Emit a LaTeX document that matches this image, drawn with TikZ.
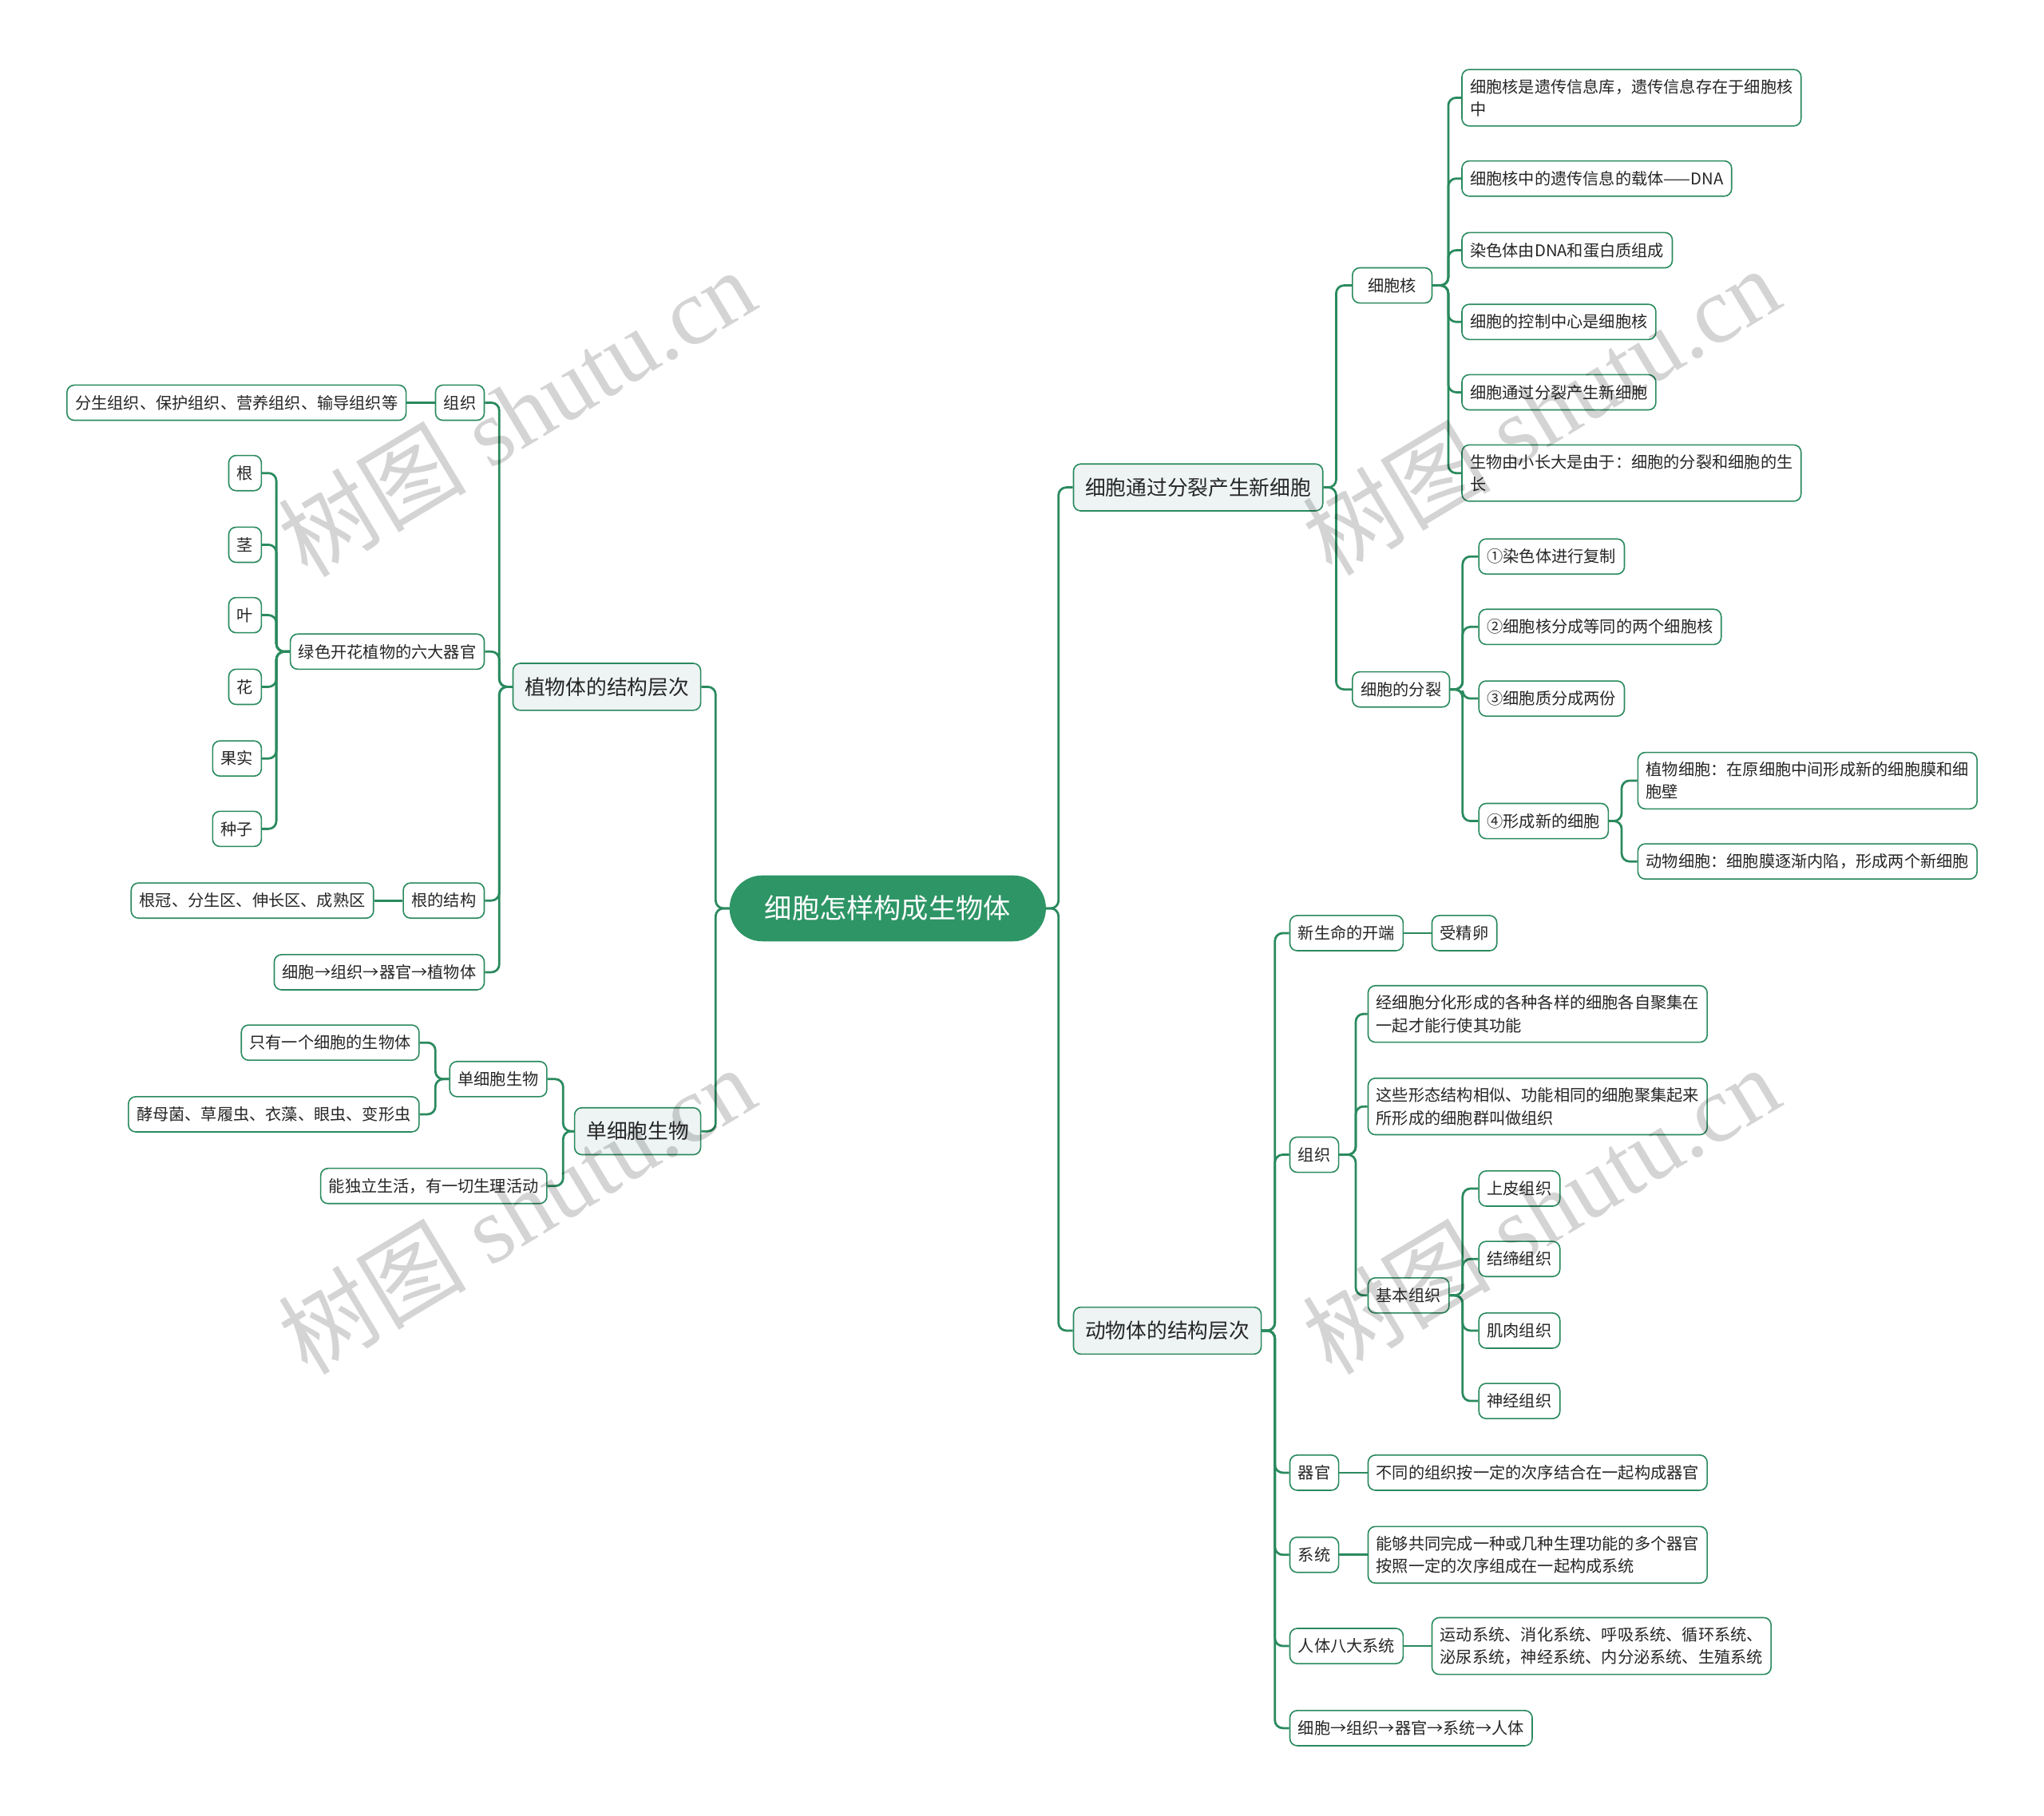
\documentclass[tikz,border=0pt]{standalone}
\usepackage{fontspec}
\setmainfont{Noto Sans CJK SC}
\newfontfamily\markserif{Liberation Serif}
\usepackage{tikz}

\definecolor{mapGreen}{HTML}{2A8A5E}
\definecolor{rootGreen}{HTML}{2E9566}
\definecolor{topicFill}{HTML}{EEF3F3}

\begin{document}
\begin{tikzpicture}[
      x=0.025cm, y=-0.025cm,
      link/.style={draw=mapGreen, line width=1.2pt, rounded corners=0.15cm},
      rootNode/.style={
        fill=rootGreen, draw=rootGreen, rounded corners=0.62cm, text=white,
        font=\fontsize{14.9}{18}\selectfont, minimum width=6.05cm,
        minimum height=1.25cm, inner sep=0pt
      },
      topicNode/.style={
        draw=mapGreen, line width=0.7pt, fill=topicFill, rounded corners=0.14cm,
        font=\fontsize{11.2}{14}\selectfont, text=black!85,
        inner xsep=0.225cm, inner ysep=0pt, minimum height=0.9cm
      },
      leafNode/.style={
        draw=mapGreen, line width=0.7pt, fill=white, rounded corners=0.14cm,
        font=\fontsize{8.8}{12.4}\selectfont, text=black!85, align=left,
        inner xsep=0.158cm, inner ysep=0.18cm, minimum height=0.675cm
      },
      markText/.style={
        text=black, text opacity=0.17, rotate=31,
        font=\markserif\fontsize{51.5}{58}\selectfont
      }
    ]

      \useasboundingbox[fill=white] (0,0) rectangle (1568,1393);

      % ---------- Root ----------
      \node[rootNode] (root) at (681,697) {细胞怎样构成生物体};

      % ---------- Level 1 ----------
      \node[topicNode, anchor=east] (plantTopic)  at (538,527)  {植物体的结构层次};
      \node[topicNode, anchor=east] (uniTopic)    at (538,868)  {单细胞生物};
      \node[topicNode, anchor=west] (divTopic)    at (823,374)  {细胞通过分裂产生新细胞};
      \node[topicNode, anchor=west] (animalTopic) at (823,1021) {动物体的结构层次};

      % ---------- Plant side ----------
      \node[leafNode, anchor=east] (plantTissue) at (372,309) {组织};
      \node[leafNode, anchor=east] (tissueKinds) at (312,309) {分生组织、保护组织、营养组织、输导组织等};
      \node[leafNode, anchor=east] (organs)      at (372,500) {绿色开花植物的六大器官};
      \node[leafNode, anchor=east] (organRoot)   at (201,363) {根};
      \node[leafNode, anchor=east] (organStem)   at (201,418) {茎};
      \node[leafNode, anchor=east] (organLeaf)   at (201,472) {叶};
      \node[leafNode, anchor=east] (organFlower) at (201,527) {花};
      \node[leafNode, anchor=east] (organFruit)  at (201,582) {果实};
      \node[leafNode, anchor=east] (organSeed)   at (201,636) {种子};
      \node[leafNode, anchor=east] (rootStruct)  at (372,691) {根的结构};
      \node[leafNode, anchor=east] (rootZones)   at (287,691) {根冠、分生区、伸长区、成熟区};
      \node[leafNode, anchor=east] (plantChain)  at (372,746) {细胞→组织→器官→植物体};

      % ---------- Single cell side ----------
      \node[leafNode, anchor=east] (uniCell)  at (420,828) {单细胞生物};
      \node[leafNode, anchor=east] (uniDef)   at (322,800) {只有一个细胞的生物体};
      \node[leafNode, anchor=east] (uniKinds) at (322,855) {酵母菌、草履虫、衣藻、眼虫、变形虫};
      \node[leafNode, anchor=east] (uniLife)  at (420,910) {能独立生活，有一切生理活动};

      % ---------- Cell division side ----------
      \node[leafNode, anchor=west, minimum width=1.525cm] (nucleus) at (1037,219) {细胞核};
      \node[leafNode, anchor=west] (division) at (1037,529) {细胞的分裂};

      \node[leafNode, anchor=west] (nucInfo)  at (1121,75)  {细胞核是遗传信息库，遗传信息存在于细胞核\\中};
      \node[leafNode, anchor=west] (nucDNA)   at (1121,137) {细胞核中的遗传信息的载体——DNA};
      \node[leafNode, anchor=west] (nucChrom) at (1121,192) {染色体由DNA和蛋白质组成};
      \node[leafNode, anchor=west] (nucCtrl)  at (1121,247) {细胞的控制中心是细胞核};
      \node[leafNode, anchor=west] (nucSplit) at (1121,301) {细胞通过分裂产生新细胞};
      \node[leafNode, anchor=west] (nucGrow)  at (1121,363) {生物由小长大是由于：细胞的分裂和细胞的生\\长};

      \node[leafNode, anchor=west] (stepA) at (1134,427) {①染色体进行复制};
      \node[leafNode, anchor=west] (stepB) at (1134,481) {②细胞核分成等同的两个细胞核};
      \node[leafNode, anchor=west] (stepC) at (1134,536) {③细胞质分成两份};
      \node[leafNode, anchor=west] (stepD) at (1134,630) {④形成新的细胞};
      \node[leafNode, anchor=west] (plantCell)  at (1256,599) {植物细胞：在原细胞中间形成新的细胞膜和细\\胞壁};
      \node[leafNode, anchor=west] (animalCell) at (1256,661) {动物细胞：细胞膜逐渐内陷，形成两个新细胞};

      % ---------- Animal side ----------
      \node[leafNode, anchor=west] (newLife)      at (989,716)  {新生命的开端};
      \node[leafNode, anchor=west] (zygote)       at (1098,716) {受精卵};
      \node[leafNode, anchor=west] (animalTissue) at (989,886)  {组织};
      \node[leafNode, anchor=west] (tisForm)      at (1049,778) {经细胞分化形成的各种各样的细胞各自聚集在\\一起才能行使其功能};
      \node[leafNode, anchor=west] (tisDef)       at (1049,849) {这些形态结构相似、功能相同的细胞聚集起来\\所形成的细胞群叫做组织};
      \node[leafNode, anchor=west] (basicTissue)  at (1049,994) {基本组织};
      \node[leafNode, anchor=west] (epith)        at (1134,912)  {上皮组织};
      \node[leafNode, anchor=west] (connective)   at (1134,966)  {结缔组织};
      \node[leafNode, anchor=west] (muscle)       at (1134,1021) {肌肉组织};
      \node[leafNode, anchor=west] (nerve)        at (1134,1075) {神经组织};
      \node[leafNode, anchor=west] (organ)        at (989,1130)  {器官};
      \node[leafNode, anchor=west] (organDef)     at (1049,1130) {不同的组织按一定的次序结合在一起构成器官};
      \node[leafNode, anchor=west] (system)       at (989,1193)  {系统};
      \node[leafNode, anchor=west] (systemDef)    at (1049,1193) {能够共同完成一种或几种生理功能的多个器官\\按照一定的次序组成在一起构成系统};
      \node[leafNode, anchor=west] (eightSys)     at (989,1263)  {人体八大系统};
      \node[leafNode, anchor=west] (eightList)    at (1098,1263) {运动系统、消化系统、呼吸系统、循环系统、\\泌尿系统，神经系统、内分泌系统、生殖系统};
      \node[leafNode, anchor=west] (animalChain)  at (989,1326)  {细胞→组织→器官→系统→人体};

      % ---------- Connectors: left ----------
      \draw[link] (plantTopic.east) -- ++(11,0) |- (root.west);
      \draw[link] (uniTopic.east) -- ++(11,0) |- (root.west);

      \foreach \kid in {plantTissue,organs,rootStruct,plantChain}
        \draw[link] (\kid.east) -- ++(11,0) |- (plantTopic.west);
      \foreach \kid in {organRoot,organStem,organLeaf,organFlower,organFruit,organSeed}
        \draw[link] (\kid.east) -- ++(11,0) |- (organs.west);
      \draw[link] (tissueKinds.east) -- (plantTissue.west);
      \draw[link] (rootZones.east) -- (rootStruct.west);

      \foreach \kid in {uniCell,uniLife}
        \draw[link] (\kid.east) -- ++(12,0) |- (uniTopic.west);
      \foreach \kid in {uniDef,uniKinds}
        \draw[link] (\kid.east) -- ++(12,0) |- (uniCell.west);

      % ---------- Connectors: right ----------
      \draw[link] (divTopic.west) -- ++(-11,0) |- (root.east);
      \draw[link] (animalTopic.west) -- ++(-11,0) |- (root.east);

      \foreach \kid in {nucleus,division}
        \draw[link] (\kid.west) -- ++(-12,0) |- (divTopic.east);
      \foreach \kid in {nucInfo,nucDNA,nucChrom,nucCtrl,nucSplit,nucGrow}
        \draw[link] (\kid.west) -- ++(-10,0) |- (nucleus.east);
      \foreach \kid in {stepA,stepB,stepC,stepD}
        \draw[link] (\kid.west) -- ++(-12,0) |- (division.east);
      \foreach \kid in {plantCell,animalCell}
        \draw[link] (\kid.west) -- ++(-12,0) |- (stepD.east);

      \foreach \kid in {newLife,animalTissue,organ,system,eightSys,animalChain}
        \draw[link] (\kid.west) -- ++(-11,0) |- (animalTopic.east);
      \draw[link] (newLife.east) -- (zygote.west);
      \foreach \kid in {tisForm,tisDef,basicTissue}
        \draw[link] (\kid.west) -- ++(-9,0) |- (animalTissue.east);
      \foreach \kid in {epith,connective,muscle,nerve}
        \draw[link] (\kid.west) -- ++(-12,0) |- (basicTissue.east);
      \draw[link] (organ.east) -- (organDef.west);
      \draw[link] (system.east) -- (systemDef.west);
      \draw[link] (eightSys.east) -- (eightList.west);

      % ---------- Watermark ----------
      \node[markText] (markA) at (396,316)  {{\rmfamily 树图} shutu.cn};
      \node[markText] (markB) at (396,928)  {{\rmfamily 树图} shutu.cn};
      \node[markText] (markC) at (1182,315) {{\rmfamily 树图} shutu.cn};
      \node[markText] (markD) at (1182,928) {{\rmfamily 树图} shutu.cn};

    \end{tikzpicture}
\end{document}
